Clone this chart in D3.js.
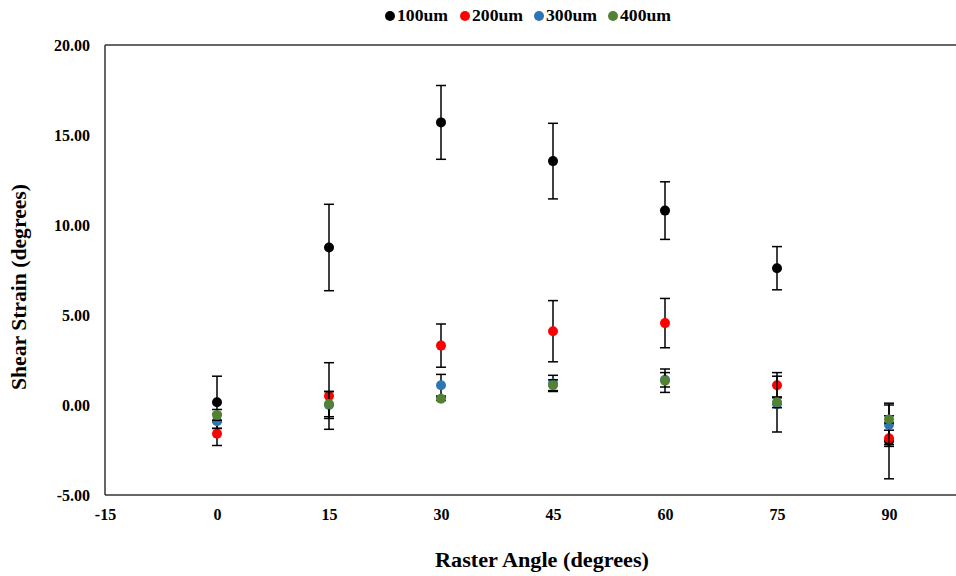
<!DOCTYPE html>
<html>
<head>
<meta charset="utf-8">
<script src="https://cdn.jsdelivr.net/npm/d3@7"></script>
<style>
body{margin:0;background:#fff}
text{font-family:"Liberation Serif","Times New Roman",serif;font-weight:bold}
</style>
</head>
<body>
<svg id="chart" width="956" height="576"></svg>
<script>
let angles=[0,15,30,45,60,75,90]
let seriesNames=['100um','200um','300um','400um']
let seriesColors=['#000000','#ff0000','#2e75b6','#548235']
// means and error (+/-) per series
let mean100=[0.15,8.75,15.7,13.55,10.8,7.6,-2.0]
let err100=[1.45,2.4,2.05,2.1,1.6,1.2,2.1]
let mean200=[-1.6,0.5,3.3,4.1,4.55,1.1,-1.85]
let err200=[0.65,1.85,1.2,1.7,1.37,0.7,0.45]
let mean300=[-0.9,0.0,1.1,1.2,1.4,0.05,-1.1]
let err300=[0.4,0.75,0.6,0.45,0.4,1.55,1.1]
let mean400=[-0.55,0.05,0.35,1.1,1.35,0.15,-0.8]
let err400=[0.3,0.7,0.1,0.3,0.65,0.3,0.2]
let yTicks=[-5,0,5,10,15,20]
let xTicks=[-15,0,15,30,45,60,75,90]

let means=[mean100,mean200,mean300,mean400]
let errs=[err100,err200,err300,err400]

let w=956,h=576
let svg=d3.select('#chart')
let x=d3.scaleLinear().domain([-15,105]).range([105,1001])
let y=d3.scaleLinear().domain([-5,20]).range([495,45])

// frame: left, top and bottom lines
svg.append('line').attr('x1',x(-15)).attr('x2',x(-15)).attr('y1',y(20)).attr('y2',y(-5)).attr('stroke','#333').attr('stroke-width',1.5)
svg.append('line').attr('x1',x(-15)).attr('x2',w).attr('y1',y(20)).attr('y2',y(20)).attr('stroke','#333').attr('stroke-width',1.5)
svg.append('line').attr('x1',x(-15)).attr('x2',w).attr('y1',y(-5)).attr('y2',y(-5)).attr('stroke','#333').attr('stroke-width',1.5)

// axes (ticks hidden, labels only) - plain hyphen for negatives like excel
let yAxis=d3.axisLeft(y).tickValues(yTicks).tickFormat(d=>d.toFixed(2)).tickSize(0).tickPadding(15)
let gy=svg.append('g').attr('transform','translate('+x(-15)+',0)').call(yAxis)
gy.select('.domain').remove()
gy.selectAll('text').attr('font-size',16).attr('fill','#000').style('font-family','"Liberation Serif",serif').style('font-weight','bold')

let xAxis=d3.axisBottom(x).tickValues(xTicks).tickFormat(d=>String(d)).tickSize(0).tickPadding(14)
let gx=svg.append('g').attr('transform','translate(0,'+y(-5)+')').call(xAxis)
gx.select('.domain').remove()
gx.selectAll('text').attr('font-size',16).attr('fill','#000').style('font-family','"Liberation Serif",serif').style('font-weight','bold')

// axis titles
svg.append('text').attr('x',542).attr('y',567).attr('text-anchor','middle').attr('font-size',21)
  .attr('textLength',214).attr('lengthAdjust','spacingAndGlyphs').text('Raster Angle (degrees)')
svg.append('text').attr('transform','translate(26,287) rotate(-90)').attr('text-anchor','middle').attr('font-size',20)
  .attr('textLength',206).attr('lengthAdjust','spacingAndGlyphs').text('Shear Strain  (degrees)')

// series: error bars then markers
means.forEach((m,s)=>{
  let g=svg.append('g')
  let rows=angles.map((a,i)=>({a:a,v:m[i],e:errs[s][i]}))
  g.selectAll('line.bar').data(rows).enter().append('line')
    .attr('x1',d=>x(d.a)).attr('x2',d=>x(d.a))
    .attr('y1',d=>y(d.v+d.e)).attr('y2',d=>y(d.v-d.e))
    .attr('stroke','#000').attr('stroke-width',1.5)
  g.selectAll('line.capT').data(rows).enter().append('line')
    .attr('x1',d=>x(d.a)-5).attr('x2',d=>x(d.a)+5)
    .attr('y1',d=>y(d.v+d.e)).attr('y2',d=>y(d.v+d.e))
    .attr('stroke','#000').attr('stroke-width',1.5)
  g.selectAll('line.capB').data(rows).enter().append('line')
    .attr('x1',d=>x(d.a)-5).attr('x2',d=>x(d.a)+5)
    .attr('y1',d=>y(d.v-d.e)).attr('y2',d=>y(d.v-d.e))
    .attr('stroke','#000').attr('stroke-width',1.5)
  g.selectAll('circle').data(rows).enter().append('circle')
    .attr('cx',d=>x(d.a)).attr('cy',d=>y(d.v)).attr('r',5)
    .attr('fill',seriesColors[s])
})

// legend
let legendX=[390,465,539,613]
let lg=svg.append('g')
seriesNames.forEach((n,i)=>{
  lg.append('circle').attr('cx',legendX[i]).attr('cy',16).attr('r',5).attr('fill',seriesColors[i])
  lg.append('text').attr('x',legendX[i]+7).attr('y',21).attr('font-size',16)
    .attr('textLength',51).attr('lengthAdjust','spacingAndGlyphs').text(n)
})
</script>
</body>
</html>
